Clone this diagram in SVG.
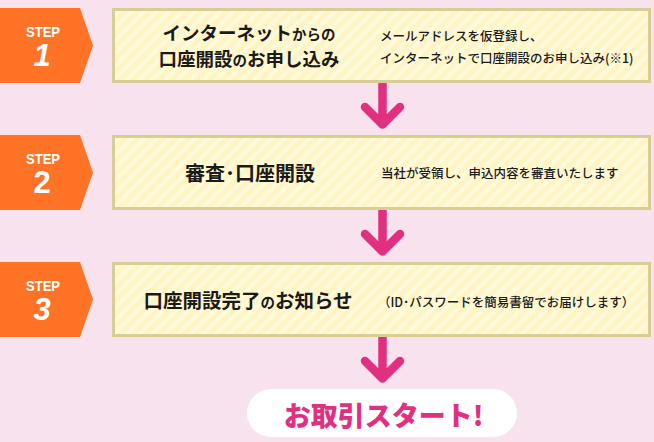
<svg xmlns="http://www.w3.org/2000/svg" width="654" height="442" viewBox="0 0 654 442">
<defs>
<pattern id="stripes" width="9" height="9" patternUnits="userSpaceOnUse" patternTransform="rotate(45)">
<rect width="9" height="9" fill="#fff4c4"/>
<rect width="4" height="9" fill="#fffadc"/>
</pattern>
<style>
.badge{fill:#fe7326}
.box{fill:url(#stripes);stroke:#d9cd97;stroke-width:3}
.step{font-family:"Liberation Sans",Arial,sans-serif;font-weight:bold;font-size:15px;fill:#fff;text-anchor:middle}
.num{font-family:"Liberation Sans",Arial,sans-serif;font-weight:bold;font-size:31px;fill:#fff;text-anchor:middle}
.title{font-family:"Noto Sans CJK JP",sans-serif;font-weight:bold;fill:#1a1a1a;text-anchor:middle}
.desc{font-family:"Noto Sans CJK JP",sans-serif;font-weight:500;font-size:12.5px;fill:#1a1a1a}
.arrow{fill:none;stroke:#e0307f;stroke-width:8.5;stroke-linecap:round;stroke-linejoin:round}
.sm{font-size:14.5px}
</style>
</defs>
<rect width="654" height="442" fill="#f8e2ed"/>

<g id="connectors">
<path class="arrow" d="M382.5 84V124M365 107L382.5 124.5L400 107"/>
<path class="arrow" d="M382.5 211V251M365 234L382.5 251.5L400 234"/>
<path class="arrow" d="M382.5 338V378M365 361L382.5 378.5L400 361"/>
</g>

<g id="step1">
<polygon class="badge" points="0,8 80,8 93,45.5 80,83 0,83"/>
<text class="step" x="43" y="37" textLength="34" lengthAdjust="spacingAndGlyphs">STEP</text>
<text class="num" x="42" y="66" font-style="italic">1</text>
</g>
<g id="box1">
<rect class="box" x="113.5" y="9.5" width="536" height="72"/>
<text class="title" font-size="18.5"><tspan x="249" y="39.5">インターネット<tspan class="sm">からの</tspan></tspan><tspan x="249" y="66">口座開設<tspan class="sm">の</tspan>お申し込み</tspan></text>
<text class="desc"><tspan x="380" y="41">メールアドレスを仮登録し、</tspan><tspan x="380" y="63">インターネットで口座開設のお申し込み(※1)</tspan></text>
</g>

<g id="step2">
<polygon class="badge" points="0,135 80,135 93,172.5 80,210 0,210"/>
<text class="step" x="43" y="164" textLength="34" lengthAdjust="spacingAndGlyphs">STEP</text>
<text class="num" x="42" y="193">2</text>
</g>
<g id="box2">
<rect class="box" x="113.5" y="136.5" width="536" height="72"/>
<text class="title" x="250" y="181" font-size="20">審査･口座開設</text>
<text class="desc" x="381" y="178" font-size="13">当社が受領し、申込内容を審査いたします</text>
</g>

<g id="step3">
<polygon class="badge" points="0,262 80,262 93,299.5 80,337 0,337"/>
<text class="step" x="43" y="291" textLength="34" lengthAdjust="spacingAndGlyphs">STEP</text>
<text class="num" x="42" y="320" font-style="italic">3</text>
</g>
<g id="box3">
<rect class="box" x="113.5" y="263.5" width="536" height="72"/>
<text class="title" x="248" y="308" font-size="19.5">口座開設完了<tspan class="sm">の</tspan>お知らせ</text>
<text class="desc" x="378" y="307" font-size="13">（ID･パスワードを簡易書留でお届けします）</text>
</g>

<g id="start">
<rect x="247" y="389" width="270" height="48" rx="24" fill="#fff"/>
<text x="383.5" y="426" font-family="Noto Sans CJK JP,sans-serif" font-weight="900" font-size="27" fill="#e0307f" text-anchor="middle">お取引スタート!</text>
</g>
</svg>
